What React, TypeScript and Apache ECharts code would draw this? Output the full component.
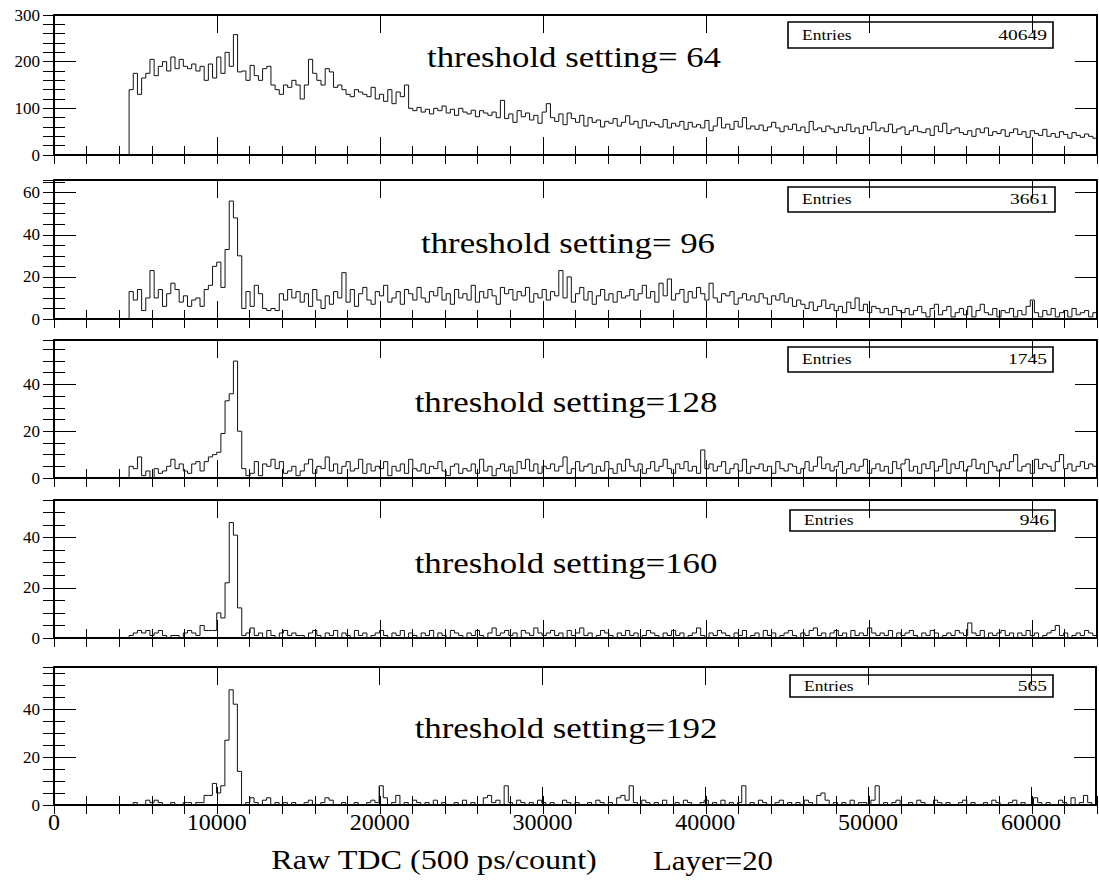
import React, { useEffect, useRef } from "react";
import * as echarts from "echarts";

// ---------- data ----------
const BIN_START = 4608;
const BIN_WIDTH = 256;
const X_MIN = 0;
const X_MAX = 64000;
const X_INTERVAL = 10000;
const X_MINOR = 2000;

const thresholds = [64, 96, 128, 160, 192];
const entries = [40649, 3661, 1745, 946, 565];
const yMax = [300, 66, 59, 55, 57.5];
const yInterval = [100, 20, 20, 20, 20];
const yMinorInterval = [20, 5, 5, 5, 5];

const counts64 = [
  140, 175, 130, 165, 175, 205, 170, 190, 200, 180,
  210, 185, 205, 190, 185, 195, 180, 190, 160, 195,
  165, 210, 175, 220, 190, 258, 178, 180, 160, 192,
  170, 160, 185, 190, 150, 140, 130, 150, 145, 160,
  150, 120, 150, 205, 175, 160, 150, 185, 178, 145,
  150, 140, 130, 125, 140, 135, 130, 125, 145, 120,
  130, 115, 140, 110, 135, 125, 150, 100, 95, 102,
  92, 98, 88, 100, 95, 105, 90, 98, 85, 100,
  92, 88, 96, 82, 95, 90, 85, 92, 80, 117,
  78, 88, 70, 95, 82, 90, 75, 85, 68, 92,
  110, 80, 72, 88, 65, 90, 78, 70, 85, 62,
  80, 70, 75, 60, 72, 68, 78, 62, 70, 84,
  66, 72, 58, 75, 62, 70, 65, 60, 76, 58,
  68, 62, 72, 55, 70, 60, 65, 58, 74, 52,
  62, 80, 58, 66, 55, 72, 60, 80, 56, 62,
  55, 64, 52, 60, 70, 58, 50, 62, 55, 66,
  52, 60, 48, 72, 54, 58, 50, 62, 56, 48,
  60, 52, 66, 50, 58, 46, 62, 54, 70, 52,
  58, 50, 66, 48, 56, 60, 44, 52, 62, 50,
  48, 56, 42, 62, 50, 68, 46, 54, 58, 48,
  44, 52, 40, 56, 48, 58, 42, 50, 46, 54,
  40, 48, 56, 44, 50, 38, 52, 46, 42, 55,
  40, 46, 38, 50, 44, 36, 48, 42, 38, 45,
  40, 36,
];

const counts96 = [
  13, 9, 14, 4, 10, 23, 10, 14, 6, 12,
  17, 14, 8, 11, 6, 9, 10, 6, 14, 16,
  25, 27, 15, 33, 56, 48, 30, 5, 13, 6,
  16, 12, 5, 4, 5, 4, 12, 9, 14, 10,
  13, 8, 12, 6, 14, 9, 5, 11, 7, 13,
  10, 22, 8, 14, 6, 12, 15, 9, 7, 13,
  11, 16, 8, 10, 13, 7, 14, 12, 9, 15,
  10, 8, 13, 11, 15, 9, 12, 7, 14, 10,
  12, 9, 16, 8, 13, 10, 14, 11, 7, 15,
  12, 14, 9, 13, 11, 15, 8, 12, 10, 14,
  9, 13, 11, 23, 10, 20, 8, 12, 15, 9,
  13, 7, 11, 14, 9, 12, 8, 13, 10, 11,
  14, 9, 12, 16, 10, 13, 8, 17, 11, 19,
  9, 12, 14, 8, 13, 10, 15, 12, 9, 17,
  10, 8, 12, 11, 13, 7, 10, 12, 9, 11,
  8, 12, 10, 7, 11, 9, 12, 8, 10, 6,
  9, 7, 5, 8, 4, 6, 9, 5, 7, 4,
  6, 3, 8, 5, 10, 4, 7, 3, 6, 5,
  3, 5, 2, 6, 4, 3, 5, 2, 4, 6,
  3, 1, 5, 7, 2, 4, 6, 1, 3, 5,
  2, 6, 1, 4, 7, 3, 2, 5, 1, 4,
  3, 5, 1, 4, 2, 6, 9, 3, 1, 4,
  2, 5, 1, 3, 4, 1, 5, 2, 3, 4,
  1, 3,
];

const counts128 = [
  5, 4, 9, 1, 3, 0, 4, 2, 3, 5,
  8, 4, 6, 3, 2, 6, 7, 3, 7, 9,
  10, 11, 19, 33, 36, 50, 20, 4, 1, 2,
  7, 1, 6, 5, 8, 4, 7, 2, 3, 5,
  1, 3, 6, 8, 2, 5, 4, 9, 3, 6,
  2, 5, 7, 3, 4, 8, 2, 6, 3, 5,
  4, 7, 1, 5, 3, 6, 2, 8, 4, 3,
  6, 2, 5, 4, 7, 3, 1, 5, 6, 2,
  4, 3, 6, 2, 8, 3, 5, 1, 4, 6,
  3, 5, 2, 7, 4, 8, 3, 6, 2, 5,
  4, 6, 3, 5, 9, 2, 4, 7, 3, 5,
  6, 2, 5, 3, 7, 4, 2, 6, 3, 8,
  5, 3, 6, 2, 4, 7, 3, 5, 8, 4,
  2, 6, 4, 7, 3, 5, 2, 12, 4, 6,
  3, 5, 7, 2, 4, 6, 3, 8, 2, 5,
  4, 6, 3, 5, 2, 7, 4, 3, 6, 5,
  2, 4, 7, 3, 5, 9, 4, 6, 3, 5,
  7, 2, 4, 6, 3, 5, 8, 2, 4, 6,
  3, 5, 2, 7, 4, 6, 8, 3, 5, 2,
  6, 4, 7, 3, 5, 8, 2, 6, 4, 7,
  3, 5, 8, 4, 6, 2, 7, 5, 3, 6,
  4, 7, 10, 3, 5, 6, 2, 8, 4, 6,
  5, 3, 7, 10, 4, 6, 3, 5, 7, 4,
  6, 5,
];

const counts160 = [
  1, 2, 3, 2, 3, 1, 2, 3, 1, 0,
  1, 1, 0, 2, 3, 2, 1, 5, 3, 3,
  3, 10, 8, 22, 46, 41, 12, 1, 2, 4,
  1, 2, 0, 3, 1, 0, 2, 3, 1, 2,
  1, 1, 0, 2, 3, 1, 0, 2, 1, 3,
  0, 2, 1, 0, 3, 1, 2, 0, 1, 2,
  3, 1, 0, 2, 1, 3, 0, 2, 1, 0,
  2, 1, 3, 0, 2, 1, 0, 3, 2, 1,
  0, 2, 1, 3, 1, 0, 2, 4, 1, 2,
  3, 1, 2, 0, 3, 2, 1, 4, 2, 1,
  2, 3, 1, 2, 0, 3, 1, 2, 4, 1,
  2, 0, 1, 3, 2, 1, 0, 2, 1, 3,
  1, 2, 0, 1, 3, 2, 1, 0, 2, 1,
  3, 1, 2, 0, 1, 2, 4, 1, 0, 2,
  1, 3, 2, 1, 0, 2, 1, 3, 0, 1,
  2, 0, 3, 1, 2, 0, 1, 2, 3, 1,
  0, 2, 1, 3, 4, 1, 2, 0, 2, 3,
  1, 2, 0, 3, 1, 2, 1, 4, 2, 1,
  2, 1, 3, 0, 2, 1, 2, 3, 1, 0,
  2, 1, 3, 2, 0, 1, 2, 1, 3, 2,
  1, 6, 2, 1, 3, 0, 2, 1, 2, 3,
  1, 2, 0, 2, 1, 3, 1, 2, 0, 1,
  2, 3, 5, 1, 2, 0, 1, 2, 1, 3,
  2, 1,
];

const counts192 = [
  0, 1, 0, 0, 2, 1, 2, 1, 0, 0,
  1, 0, 0, 1, 1, 0, 1, 1, 4, 4,
  9, 5, 8, 27, 48, 42, 14, 0, 1, 3,
  1, 0, 2, 3, 0, 1, 0, 1, 0, 1,
  0, 0, 1, 2, 0, 0, 1, 3, 2, 0,
  0, 1, 0, 0, 1, 0, 0, 1, 2, 1,
  8, 3, 0, 1, 4, 0, 1, 0, 2, 1,
  0, 1, 0, 2, 0, 1, 0, 0, 1, 0,
  2, 0, 1, 0, 0, 3, 4, 1, 2, 0,
  8, 1, 0, 2, 1, 0, 1, 0, 2, 1,
  0, 1, 0, 0, 2, 1, 0, 1, 0, 0,
  1, 0, 2, 1, 0, 1, 0, 3, 4, 2,
  8, 1, 0, 2, 1, 0, 1, 0, 2, 0,
  0, 1, 0, 2, 1, 0, 0, 1, 2, 0,
  1, 0, 2, 0, 1, 0, 1, 8, 0, 1,
  0, 2, 1, 0, 0, 1, 2, 0, 1, 0,
  1, 0, 2, 1, 0, 4, 5, 2, 0, 1,
  0, 1, 0, 2, 0, 1, 1, 0, 2, 8,
  0, 1, 0, 1, 2, 0, 0, 1, 0, 2,
  1, 0, 0, 2, 1, 0, 1, 0, 0, 1,
  2, 0, 1, 0, 0, 1, 0, 2, 1, 0,
  0, 1, 2, 0, 1, 0, 0, 3, 1, 0,
  1, 0, 0, 2, 1, 0, 3, 0, 1, 4,
  1, 0,
];

const allCounts = [counts64, counts96, counts128, counts160, counts192];

const xAxisTitle = "Raw TDC (500 ps/count)";
const layerLabel = "Layer=20";

// ---------- layout ----------
const GRID_LEFT = 54;
const GRID_WIDTH = 1043;
const gridTops = [15, 180, 340, 500, 667];
const gridHeights = [140, 139, 138, 138, 138];
const titleX = [574, 568, 566, 566, 566];
const titleY = [57, 243, 402, 563, 728];
const boxRects = [
  [788, 22, 265, 26],
  [788, 187, 267, 25],
  [788, 347, 265, 25],
  [790, 510, 265, 21],
  [790, 675, 263, 22],
];

const FONT = "Liberation Serif";

function histPoints(counts: number[]) {
  const pts: number[][] = [[BIN_START, 0]];
  counts.forEach((c, i) => pts.push([BIN_START + i * BIN_WIDTH, c]));
  pts.push([BIN_START + counts.length * BIN_WIDTH, counts[counts.length - 1]]);
  return pts;
}

function buildOption() {
  const grids: any[] = [];
  const xAxes: any[] = [];
  const yAxes: any[] = [];
  const series: any[] = [];
  const graphics: any[] = [];
  const black = "#000";

  // main grids 0..4, minor-tick grids 5..9
  for (let i = 0; i < 5; i++) {
    grids.push({ left: GRID_LEFT, top: gridTops[i], width: GRID_WIDTH, height: gridHeights[i] });
  }
  for (let i = 0; i < 5; i++) {
    grids.push({ left: GRID_LEFT, top: gridTops[i], width: GRID_WIDTH, height: gridHeights[i] });
  }

  const xMajor = (gridIndex: number, position: string, labels: boolean) => ({
    type: "value",
    gridIndex,
    position,
    min: X_MIN,
    max: X_MAX,
    interval: X_INTERVAL,
    axisLine: { show: true, onZero: false, lineStyle: { color: black, width: 2 } },
    axisTick: { show: true, inside: true, length: 18, lineStyle: { color: black, width: 1 } },
    splitLine: { show: false },
    axisLabel: labels
      ? {
          show: true,
          color: black,
          fontFamily: FONT,
          fontSize: 24,
          margin: 5,
          formatter: (v: number) => (v % X_INTERVAL === 0 ? String(v) : ""),
        }
      : { show: false },
  });
  const xMinor = (gridIndex: number, position: string) => ({
    type: "value",
    gridIndex,
    position,
    min: X_MIN,
    max: X_MAX,
    interval: X_MINOR,
    axisLine: { show: false },
    axisTick: { show: true, inside: true, length: 9, lineStyle: { color: black, width: 1 } },
    splitLine: { show: false },
    axisLabel: { show: false },
  });
  const yMajor = (i: number, gridIndex: number, position: string, labels: boolean) => ({
    type: "value",
    gridIndex,
    position,
    min: 0,
    max: yMax[i],
    interval: yInterval[i],
    axisLine: { show: true, onZero: false, lineStyle: { color: black, width: 2 } },
    axisTick: { show: true, inside: true, length: 22, lineStyle: { color: black, width: 1 } },
    splitLine: { show: false },
    axisLabel: labels
      ? {
          show: true,
          color: black,
          fontFamily: FONT,
          fontSize: 17,
          margin: 14,
          formatter: (v: number) => (v % yInterval[i] === 0 ? String(v) : ""),
        }
      : { show: false },
  });
  const yMinor = (i: number, gridIndex: number, position: string) => ({
    type: "value",
    gridIndex,
    position,
    min: 0,
    max: yMax[i],
    interval: yMinorInterval[i],
    axisLine: { show: false },
    axisTick: { show: true, inside: true, length: 11, lineStyle: { color: black, width: 1 } },
    splitLine: { show: false },
    axisLabel: { show: false },
  });

  for (let i = 0; i < 5; i++) {
    xAxes.push(xMajor(i, "bottom", i === 4)); // index 2i
    xAxes.push(xMajor(i, "top", false)); // 2i+1
    yAxes.push(yMajor(i, i, "left", true));
    yAxes.push(yMajor(i, i, "right", false));
  }
  for (let i = 0; i < 5; i++) {
    xAxes.push(xMinor(5 + i, "bottom"));
    xAxes.push(xMinor(5 + i, "top"));
    yAxes.push(yMinor(i, 5 + i, "left"));
    yAxes.push(yMinor(i, 5 + i, "right"));
  }

  for (let i = 0; i < 5; i++) {
    series.push({
      type: "line",
      xAxisIndex: 2 * i,
      yAxisIndex: 2 * i,
      step: "end",
      showSymbol: false,
      symbol: "none",
      data: histPoints(allCounts[i]),
      lineStyle: { color: "#111", width: 1 },
    });

    graphics.push({
      type: "text",
      x: titleX[i],
      y: titleY[i],
      scaleX: 1.2,
      style: {
        text: `threshold setting=${thresholds[i] < 100 ? " " : ""}${thresholds[i]}`,
        font: `29px ${FONT}`,
        fill: black,
        align: "center",
        verticalAlign: "middle",
      },
    });

    const [bx, by, bw, bh] = boxRects[i];
    graphics.push({
      type: "rect",
      shape: { x: bx, y: by, width: bw, height: bh },
      style: { fill: "#fff", stroke: black, lineWidth: 1.6 },
    });
    graphics.push({
      type: "text",
      x: bx + 14,
      y: by + bh / 2,
      scaleX: 1.25,
      style: { text: "Entries", font: `14px ${FONT}`, fill: black, align: "left", verticalAlign: "middle" },
    });
    graphics.push({
      type: "text",
      x: bx + bw - 6,
      y: by + bh / 2,
      scaleX: 1.3,
      style: { text: String(entries[i]), font: `15px ${FONT}`, fill: black, align: "right", verticalAlign: "middle" },
    });
  }

  graphics.push({
    type: "text",
    x: 434,
    y: 860,
    scaleX: 1.15,
    style: { text: xAxisTitle, font: `28px ${FONT}`, fill: "#000", align: "center", verticalAlign: "middle" },
  });
  graphics.push({
    type: "text",
    x: 713,
    y: 860,
    scaleX: 1.1,
    style: { text: layerLabel, font: `28px ${FONT}`, fill: "#000", align: "center", verticalAlign: "middle" },
  });

  return {
    animation: false,
    grid: grids,
    xAxis: xAxes,
    yAxis: yAxes,
    series,
    graphic: graphics,
  };
}

export default function App() {
  const ref = useRef<HTMLDivElement>(null);
  useEffect(() => {
    if (!ref.current) return;
    const chart = echarts.init(ref.current, null, { renderer: "svg" });
    chart.setOption(buildOption() as any);
    return () => chart.dispose();
  }, []);
  return (
    <div
      ref={ref}
      style={{ position: "absolute", left: 0, top: 0, width: 1099, height: 880, background: "#fff" }}
    />
  );
}
